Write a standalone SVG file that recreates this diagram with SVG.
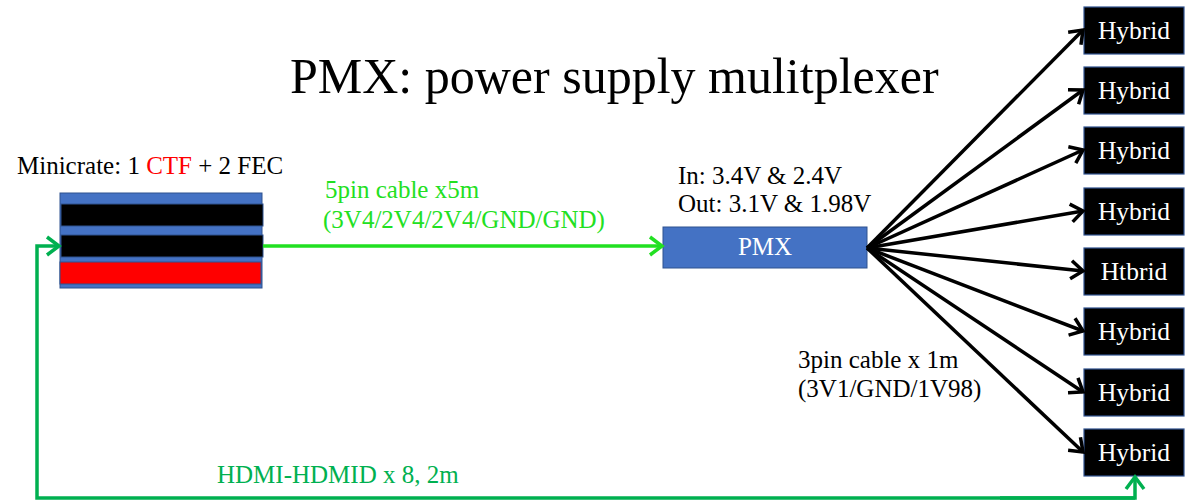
<svg xmlns="http://www.w3.org/2000/svg" width="1185" height="501" viewBox="0 0 1185 501">
<style>
text{font-family:"Liberation Serif","Times New Roman",serif;}
.t{font-size:25px;fill:#000;}
.hy{fill:#000;stroke:#2F528F;stroke-width:1.2;}
.ht{font-size:25.5px;fill:#fff;text-anchor:middle;}
.blk{stroke:#000;stroke-width:3.5;fill:none;marker-end:url(#ab);}
.gr1{stroke:#22E022;stroke-width:3.5;fill:none;marker-end:url(#ag1);}
.gr2{stroke:#00B050;stroke-width:3.5;fill:none;marker-end:url(#ag2);}
</style>
<defs>
<marker id="ab" markerUnits="userSpaceOnUse" markerWidth="26" markerHeight="26" refX="15" refY="13" orient="auto" viewBox="0 0 26 26">
<polyline points="3,4 15,13 3,22" fill="none" stroke="#000" stroke-width="3.5"/>
</marker>
<marker id="ag1" markerUnits="userSpaceOnUse" markerWidth="26" markerHeight="26" refX="15" refY="13" orient="auto" viewBox="0 0 26 26">
<polyline points="3,4 15,13 3,22" fill="none" stroke="#22E022" stroke-width="3.5"/>
</marker>
<marker id="ag2" markerUnits="userSpaceOnUse" markerWidth="26" markerHeight="26" refX="15" refY="13" orient="auto" viewBox="0 0 26 26">
<polyline points="3,4 15,13 3,22" fill="none" stroke="#00B050" stroke-width="3.5"/>
</marker>
</defs>
<rect width="1185" height="501" fill="#fff"/>
<text x="290" y="93" style="font-size:50px">PMX: power supply mulitplexer</text>

<g id="minicrate">
<text x="17" y="174" class="t">Minicrate: 1 <tspan fill="#FF0000">CTF</tspan> + 2 FEC</text>
<rect x="60" y="193" width="202" height="95" fill="#4472C4" stroke="#2F528F" stroke-width="1"/>
<rect x="61" y="204" width="202" height="22" fill="#000" stroke="#2F528F" stroke-width="1"/>
<rect x="61" y="235" width="202" height="22" fill="#000" stroke="#2F528F" stroke-width="1"/>
<rect x="60" y="262" width="201" height="22" fill="#FF0000" stroke="#2F528F" stroke-width="1"/>
</g>

<g id="pmx">
<text x="678" y="184" class="t">In: 3.4V &amp; 2.4V</text>
<text x="678" y="212" class="t">Out: 3.1V &amp; 1.98V</text>
<rect x="663" y="227" width="204" height="41" fill="#4472C4" stroke="#2F528F" stroke-width="1"/>
<text x="765" y="255" class="t" style="fill:#fff;text-anchor:middle">PMX</text>
</g>

<g id="hybrid1"><rect class="hy" x="1084" y="7" width="100" height="47"/><text class="ht" x="1134" y="39">Hybrid</text></g>
<g id="hybrid2"><rect class="hy" x="1084" y="67" width="100" height="47"/><text class="ht" x="1134" y="99">Hybrid</text></g>
<g id="hybrid3"><rect class="hy" x="1084" y="127" width="100" height="47"/><text class="ht" x="1134" y="159">Hybrid</text></g>
<g id="hybrid4"><rect class="hy" x="1084" y="188" width="100" height="47"/><text class="ht" x="1134" y="220">Hybrid</text></g>
<g id="hybrid5"><rect class="hy" x="1084" y="248" width="100" height="47"/><text class="ht" x="1134" y="280">Htbrid</text></g>
<g id="hybrid6"><rect class="hy" x="1084" y="308" width="100" height="47"/><text class="ht" x="1134" y="340">Hybrid</text></g>
<g id="hybrid7"><rect class="hy" x="1084" y="369" width="100" height="47"/><text class="ht" x="1134" y="401">Hybrid</text></g>
<g id="hybrid8"><rect class="hy" x="1084" y="429" width="100" height="47"/><text class="ht" x="1134" y="461">Hybrid</text></g>

<g id="connectors">
<line class="gr1" x1="263" y1="246" x2="662" y2="246"/>
<text x="325" y="198" class="t" style="fill:#22E022">5pin cable x5m</text>
<text x="323" y="228" class="t" style="fill:#22E022">(3V4/2V4/2V4/GND/GND)</text>
<line class="blk" x1="867" y1="248" x2="1083" y2="30"/>
<line class="blk" x1="867" y1="248" x2="1083" y2="90"/>
<line class="blk" x1="867" y1="248" x2="1083" y2="150"/>
<line class="blk" x1="867" y1="248" x2="1083" y2="211"/>
<line class="blk" x1="867" y1="248" x2="1083" y2="271"/>
<line class="blk" x1="867" y1="248" x2="1083" y2="331"/>
<line class="blk" x1="867" y1="248" x2="1083" y2="392"/>
<line class="blk" x1="867" y1="248" x2="1083" y2="452"/>
<text x="798" y="368" class="t">3pin cable x 1m</text>
<text x="798" y="397" class="t">(3V1/GND/1V98)</text>
<polyline class="gr2" points="1135,498 37,498 37,246 59,246"/>
<polyline class="gr2" points="1000,498 1135,498 1135,477"/>
<text x="217" y="483" class="t" style="fill:#00B050">HDMI-HDMID x 8, 2m</text>
</g>
</svg>
